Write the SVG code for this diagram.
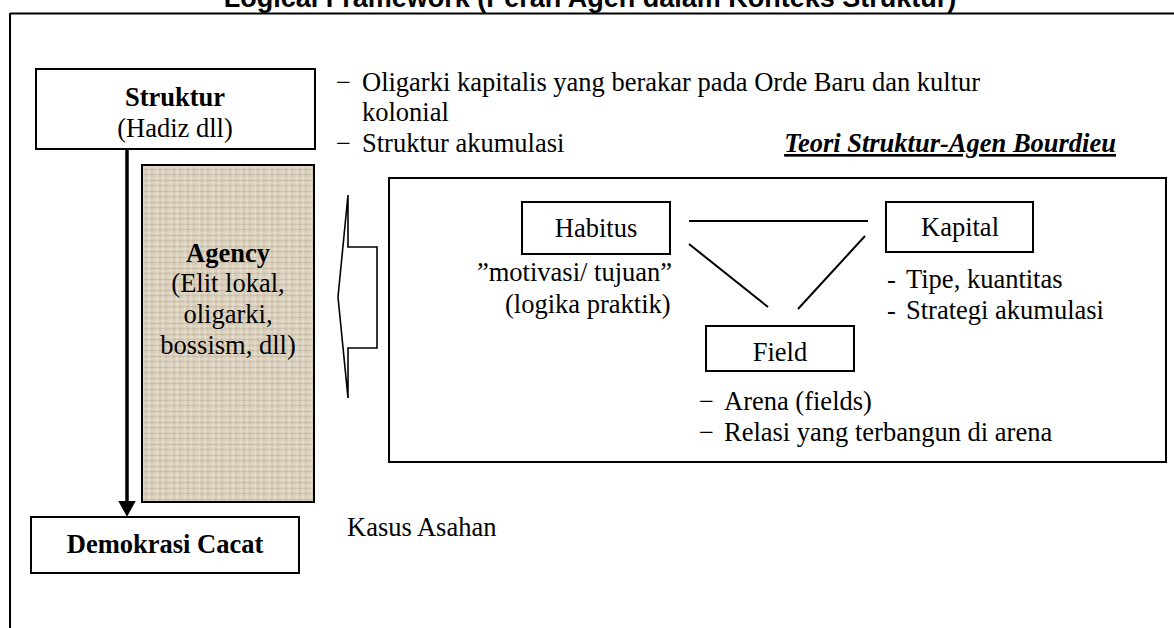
<svg xmlns="http://www.w3.org/2000/svg" width="1174" height="628" viewBox="0 0 1174 628">
<style>
.t{font-family:"Liberation Serif","Times New Roman",serif;font-size:26.5px;fill:#000}
.b{font-weight:bold}
.c{text-anchor:middle}
.box{fill:#fff;stroke:#000;stroke-width:2}
.ln{stroke:#000;stroke-width:2;fill:none}
</style>
<defs>
<pattern id="tex" width="14" height="11" patternUnits="userSpaceOnUse">
<rect width="14" height="11" fill="#d8cebb"/>
<path d="M3 0V11M9 0V11" stroke="#e8e0d0" stroke-width="1.2"/>
<path d="M6 0V11M12 0V11" stroke="#c4b8a2" stroke-width="0.8"/>
<path d="M0 2H14M0 7H14" stroke="#e6ddcc" stroke-width="1"/>
<path d="M0 4.5H14M0 9.5H14" stroke="#c6baa5" stroke-width="0.7"/>
</pattern>
<marker id="ah" markerWidth="4.5" markerHeight="5" refX="0" refY="2.5" orient="auto" markerUnits="strokeWidth">
<path d="M0 0L4.5 2.5L0 5Z" fill="#000"/>
</marker>
</defs>

<text x="590" y="7" class="c b" style="font-family:'Liberation Sans',Arial,sans-serif;font-size:27px">Logical Framework (Peran Agen dalam Konteks Struktur)</text>

<g id="frame">
<path d="M10 13.5H1174M10 13V628" class="ln"/>
</g>

<g id="struktur">
<rect x="36" y="69" width="279" height="80" class="box"/>
<text x="175" y="106" class="t b c">Struktur</text>
<text x="175" y="137" class="t c">(Hadiz dll)</text>
</g>

<g id="agency">
<rect x="142" y="165" width="172" height="337" fill="url(#tex)" stroke="#000" stroke-width="2"/>
<text x="228" y="262" class="t b c">Agency</text>
<text x="228" y="292" class="t c">(Elit lokal,</text>
<text x="228" y="323" class="t c">oligarki,</text>
<text x="228" y="354" class="t c">bossism, dll)</text>
</g>

<g id="demokrasi">
<rect x="31" y="517" width="268" height="56" class="box"/>
<text x="165" y="553" class="t b c">Demokrasi Cacat</text>
</g>

<g id="kasus">
<text x="347" y="536" class="t">Kasus Asahan</text>
</g>

<g id="struktur-notes">
<text class="t" y="91"><tspan x="336">−</tspan><tspan x="362">Oligarki kapitalis yang berakar pada Orde Baru dan kultur</tspan></text>
<text class="t" x="362" y="121">kolonial</text>
<text class="t" y="152"><tspan x="336">−</tspan><tspan x="362">Struktur akumulasi</tspan></text>
</g>

<g id="bourdieu-title">
<text x="1116" y="152" class="t b" style="font-style:italic;text-anchor:end;text-decoration:underline">Teori Struktur-Agen Bourdieu</text>
</g>

<g id="bourdieu">
<rect x="389" y="178" width="777" height="284" class="box"/>
</g>

<g id="habitus">
<rect x="522" y="202" width="148" height="52" class="box"/>
<text x="596" y="237" class="t c">Habitus</text>
<text x="477" y="281" class="t">”motivasi/ tujuan”</text>
<text x="505" y="313" class="t">(logika praktik)</text>
</g>

<g id="kapital">
<rect x="886" y="202" width="147" height="50" class="box"/>
<text x="960" y="236" class="t c">Kapital</text>
<text class="t" y="288"><tspan x="887">-</tspan><tspan x="906">Tipe, kuantitas</tspan></text>
<text class="t" y="319"><tspan x="887">-</tspan><tspan x="906">Strategi akumulasi</tspan></text>
</g>

<g id="field">
<rect x="706" y="326" width="148" height="45" class="box"/>
<text x="780" y="361" class="t c">Field</text>
<text class="t" y="410"><tspan x="699">−</tspan><tspan x="724">Arena (fields)</tspan></text>
<text class="t" y="441"><tspan x="699">−</tspan><tspan x="724">Relasi yang terbangun di arena</tspan></text>
</g>

<g id="connectors">
<path d="M127 149V501" stroke="#000" stroke-width="3.5" marker-end="url(#ah)"/>
<path d="M348 195V247H377V348H348V398L338 297Z" fill="#fff" stroke="#000" stroke-width="1.6" stroke-linejoin="miter"/>
<path d="M689 221H868" class="ln"/>
<path d="M689 244L768 307" class="ln"/>
<path d="M865 236L798 309" class="ln"/>
</g>
</svg>
